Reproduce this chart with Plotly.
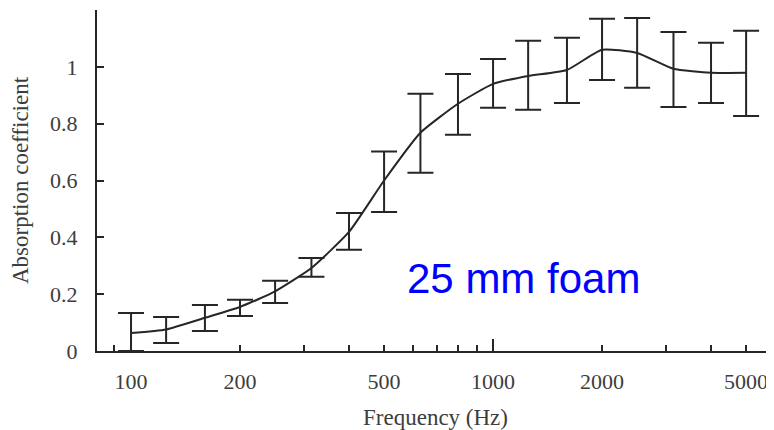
import numpy as np
import plotly.graph_objects as go

# Data
freq = [100, 125, 160, 200, 250, 315, 400, 500, 630, 800, 1000, 1250, 1600, 2000, 2500, 3150, 4000, 5000]
alpha = [0.063, 0.076, 0.117, 0.155, 0.210, 0.292, 0.419, 0.600, 0.768, 0.870, 0.940, 0.968, 0.989, 1.060, 1.049, 0.993, 0.979, 0.979]
upper = [0.134, 0.120, 0.162, 0.180, 0.247, 0.327, 0.486, 0.702, 0.905, 0.975, 1.028, 1.092, 1.102, 1.169, 1.172, 1.123, 1.085, 1.127]
lower = [0.000, 0.028, 0.070, 0.123, 0.169, 0.261, 0.356, 0.489, 0.627, 0.761, 0.856, 0.849, 0.873, 0.954, 0.926, 0.859, 0.873, 0.827]

x_tickvals = [100, 200, 500, 1000, 2000, 5000]
x_ticktext = ["100", "200", "500", "1000", "2000", "5000"]
x_minor = [90, 300, 400, 600, 700, 800, 900, 3000, 4000]
x_decades = [100, 1000]
y_tickvals = [0, 0.2, 0.4, 0.6, 0.8, 1]
y_ticktext = ["0", "0.2", "0.4", "0.6", "0.8", "1"]

label_text = "25 mm foam"

a = np.array(alpha)
err_plus = np.array(upper) - a
err_minus = a - np.array(lower)

ink = "#262626"
txt = "#3d3d3d"
serif = "Liberation Serif, DejaVu Serif, serif"

fig = go.Figure()
fig.add_trace(go.Scatter(
    x=freq, y=alpha, mode="lines",
    line=dict(color=ink, width=2, shape="spline", smoothing=0.5),
    error_y=dict(type="data", symmetric=False, array=err_plus, arrayminus=err_minus,
                 color=ink, thickness=2, width=13),
    showlegend=False, hoverinfo="x+y",
))
# empty trace so the overlay axis carrying the long decade ticks is drawn
fig.add_trace(go.Scatter(x=[], y=[], xaxis="x2", showlegend=False))

xr = [1.906, 3.776]
# the page body has an 8px default margin, so the figure is sized/offset to compensate
fig.update_layout(
    width=766, height=422,
    margin=dict(l=89, r=0, t=2, b=79),
    paper_bgcolor="white", plot_bgcolor="white",
    font=dict(family=serif, size=22, color=txt),
    xaxis=dict(
        type="log", range=xr, automargin=False,
        tickvals=x_tickvals, ticktext=x_ticktext,
        ticks="inside", ticklen=6, tickwidth=2, tickcolor=ink,
        minor=dict(tickvals=x_minor, ticks="inside", ticklen=6, tickwidth=2, tickcolor=ink, showgrid=False),
        showline=True, linecolor=ink, linewidth=2,
        showgrid=False, zeroline=False,
        ticklabelstandoff=10,
        tickfont=dict(family=serif, size=22, color=txt),
        title=dict(text="Frequency (Hz)", font=dict(family=serif, size=23, color=txt), standoff=16),
    ),
    xaxis2=dict(
        type="log", range=xr, overlaying="x", anchor="y", side="bottom", automargin=False,
        tickvals=x_decades, showticklabels=False,
        ticks="inside", ticklen=12, tickwidth=2, tickcolor=ink,
        showline=False, showgrid=False, zeroline=False,
    ),
    yaxis=dict(
        range=[0, 1.2], automargin=False,
        tickvals=y_tickvals, ticktext=y_ticktext,
        ticks="inside", ticklen=7, tickwidth=2, tickcolor=ink,
        showline=True, linecolor=ink, linewidth=2,
        showgrid=False, zeroline=False,
        ticklabelstandoff=13,
        tickfont=dict(family=serif, size=22, color=txt),
        title=dict(text="Absorption coefficient", font=dict(family=serif, size=23, color=txt), standoff=17),
    ),
    annotations=[dict(
        x=np.log10(1210), y=0.254, xref="x", yref="y",
        text=label_text, showarrow=False,
        font=dict(family="Liberation Sans, Arial, sans-serif", size=42, color="#0000ff"),
    )],
)

fig.write_html("out.html")
